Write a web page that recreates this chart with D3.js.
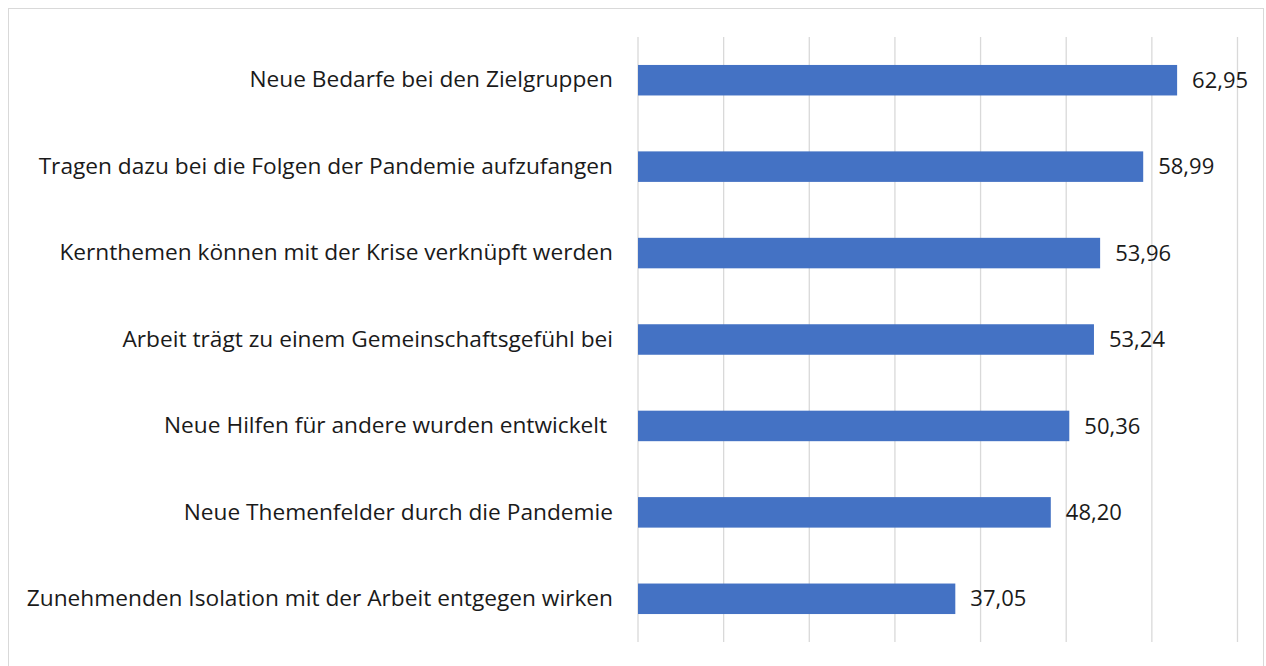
<!DOCTYPE html>
<html>
<head>
<meta charset="utf-8">
<script src="https://cdn.jsdelivr.net/npm/d3@7"></script>
<style>
  body { margin: 0; background: #fff; }
  svg { display: block; }
  text { white-space: pre; }
</style>
</head>
<body>
<div id="chart"></div>
<script>
// Data
var categories = [
	"Neue Bedarfe bei den Zielgruppen",
	"Tragen dazu bei die Folgen der Pandemie aufzufangen",
	"Kernthemen können mit der Krise verknüpft werden",
	"Arbeit trägt zu einem Gemeinschaftsgefühl bei",
	"Neue Hilfen für andere wurden entwickelt ",
	"Neue Themenfelder durch die Pandemie",
	"Zunehmenden Isolation mit der Arbeit entgegen wirken"
];
var values = [62.95, 58.99, 53.96, 53.24, 50.36, 48.20, 37.05];
var gridTicks = [0, 10, 20, 30, 40, 50, 60, 70];

// Dimensions
var size = {width: 1266, height: 666};
var plot = {left: 638, right: 1237.5, top: 37, bottom: 642};
var font = "'Open Sans', sans-serif";

var svg = d3.select("#chart")
	.append("svg")
		.attr("width", size.width)
		.attr("height", size.height);

// frame
svg.append("rect")
	.attr("x", 8.5)
	.attr("y", 8.5)
	.attr("width", 1255)
	.attr("height", 670)
	.attr("fill", "none")
	.attr("stroke", "#d9d9d9")
	.attr("stroke-width", 1);

// Scales
var x = d3.scaleLinear()
	.domain([0, 70])
	.range([plot.left, plot.right]);

var y = d3.scaleBand()
	.domain(categories)
	.range([plot.top, plot.bottom])
	.paddingInner(0.647)
	.paddingOuter(0.3235);

// gridlines
svg.append("g")
	.attr("class", "grid")
	.selectAll("line")
	.data(gridTicks)
	.enter().append("line")
		.attr("x1", function(d) { return x(d); })
		.attr("x2", function(d) { return x(d); })
		.attr("y1", plot.top)
		.attr("y2", plot.bottom)
		.attr("stroke", "#d9d9d9")
		.attr("stroke-width", 1.3);

// bars
svg.append("g")
	.selectAll("rect")
	.data(values)
	.enter().append("rect")
		.attr("x", x(0))
		.attr("y", function(d, i) { return y(categories[i]); })
		.attr("width", function(d) { return x(d) - x(0); })
		.attr("height", y.bandwidth())
		.attr("fill", "#4472c4");

// category labels
var yAxis = svg.append("g")
	.attr("transform", "translate(" + plot.left + ",0)")
	.call(d3.axisLeft(y).tickSize(0).tickPadding(25));
yAxis.select(".domain").remove();
yAxis.selectAll("text")
	.attr("font-family", font)
	.attr("font-size", 22.7)
	.attr("fill", "#1a1a1a");

// value labels
svg.append("g")
	.selectAll("text")
	.data(values)
	.enter().append("text")
		.attr("x", function(d) { return x(d) + 15; })
		.attr("y", function(d, i) { return y(categories[i]) + y.bandwidth() / 2; })
		.attr("dy", "0.35em")
		.attr("font-family", font)
		.attr("font-size", 22)
		.attr("fill", "#1a1a1a")
		.text(function(d) { return d3.format(".2f")(d).replace(".", ","); });
</script>
</body>
</html>
